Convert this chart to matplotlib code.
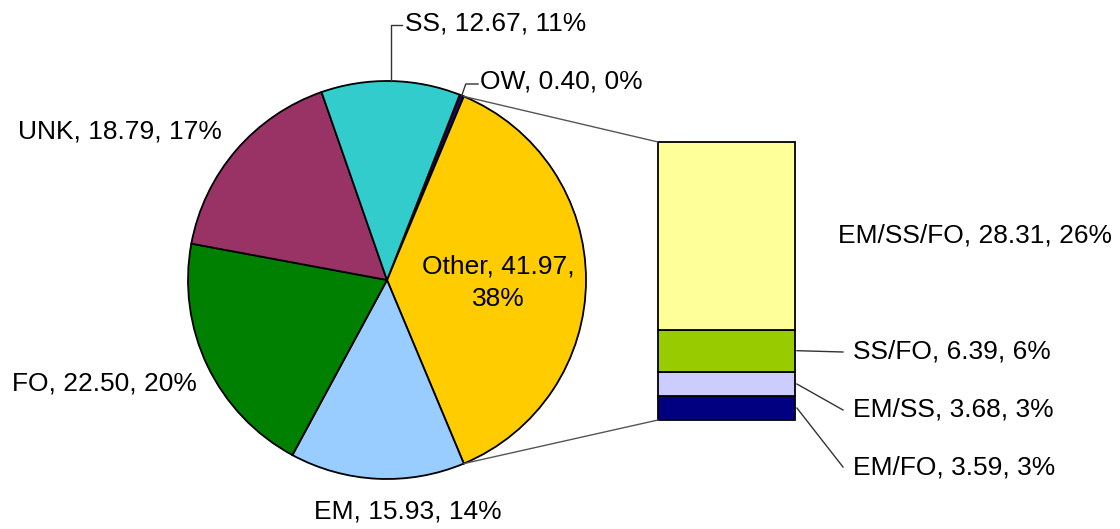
import numpy as np
import matplotlib.pyplot as plt
from matplotlib.patches import ConnectionPatch

plt.rcParams['font.family'] = ['Liberation Sans', 'DejaVu Sans']

# Pie slices, clockwise from the small OW slice
pie_names = ["OW", "Other", "EM", "FO", "UNK", "SS"]
pie_values = [0.40, 41.97, 15.93, 22.50, 18.79, 12.67]
pie_pcts = ["0%", "38%", "14%", "20%", "17%", "11%"]
pie_colors = ["#1a0a66", "#ffcc00", "#99ccff", "#008000", "#993366", "#33cccc"]

# Breakdown of "Other", bottom to top
bar_names = ["EM/FO", "EM/SS", "SS/FO", "EM/SS/FO"]
bar_values = [3.59, 3.68, 6.39, 28.31]
bar_pcts = ["3%", "3%", "6%", "26%"]
bar_colors = ["#000080", "#ccccff", "#99cc00", "#ffff99"]

W, H = 1120, 529
fig = plt.figure(figsize=(W / 100, H / 100), dpi=100)
ax = fig.add_axes([0, 0, 1, 1])

cx, cy, r = 387, H - 280, 199
total = sum(pie_values)
deg = [v / total * 360 for v in pie_values]
# keep "Other" centred on the right side
start = deg[1] / 2 + deg[0]
wedges, _ = ax.pie(pie_values, colors=pie_colors, startangle=start,
                   counterclock=False, center=(cx, cy), radius=r,
                   wedgeprops=dict(edgecolor="black", linewidth=1.3),
                   frame=True)
ax.set_xlim(0, W)
ax.set_ylim(0, H)
ax.set_aspect("auto")
ax.axis("off")

def edge_pt(angle, rr=r):
    a = np.deg2rad(angle)
    return cx + rr * np.cos(a), cy + rr * np.sin(a)

fs = 19
lc = "#333333"

# stacked bar for the "Other" breakdown
bax = fig.add_axes([658 / W, (H - 420) / H, 137 / W, 278 / H])
bottoms = np.concatenate([[0], np.cumsum(bar_values)[:-1]])
bax.bar([0.5] * len(bar_values), bar_values, bottom=bottoms, width=1.0,
        color=bar_colors, edgecolor="black", linewidth=1.3, clip_on=False)
bax.set_xlim(0, 1)
bax.set_ylim(0, sum(bar_values))
bax.axis("off")

# connector lines from the Other slice to the bar
other = wedges[1]
for ang, yb in [(other.theta2, 1), (other.theta1, 0)]:
    con = ConnectionPatch(xyA=edge_pt(ang), coordsA=ax.transData,
                          xyB=(0, yb), coordsB=bax.transAxes,
                          color="#555555", linewidth=1.0)
    fig.add_artist(con)

def lab(i):
    return f"{pie_names[i]}, {pie_values[i]:.2f}, {pie_pcts[i]}"

# SS label with elbow leader
w = wedges[5]
mx, my = edge_pt((w.theta1 + w.theta2) / 2)
ax.plot([mx, mx, 402], [my, H - 25, H - 25], color=lc, lw=1.0)
ax.text(405, H - 23, lab(5), fontsize=fs, ha="left", va="center")

# OW label with elbow leader
w = wedges[0]
mx, my = edge_pt((w.theta1 + w.theta2) / 2)
ax.plot([mx, mx + 4, 478], [my, H - 84, H - 84], color=lc, lw=1.0)
ax.text(480, H - 82, lab(0), fontsize=fs, ha="left", va="center")

ax.text(222, H - 132, lab(4), fontsize=fs, ha="right", va="center")
ax.text(197, H - 384, lab(3), fontsize=fs, ha="right", va="center")
ax.text(408, H - 511, lab(2), fontsize=fs, ha="center", va="center")
ax.text(498, H - 283, f"{pie_names[1]}, {pie_values[1]:.2f},\n{pie_pcts[1]}",
        fontsize=fs, ha="center", va="center", linespacing=1.45)

# bar labels
def blab(i):
    return f"{bar_names[i]}, {bar_values[i]:.2f}, {bar_pcts[i]}"

to_ax = lambda x, y: ax.transData.inverted().transform(
    bax.transData.transform((x, y)))

ax.text(838, H - 235, blab(3), fontsize=fs, ha="left", va="center")
label_y = {2: 352, 1: 410, 0: 467}
for i, ty in label_y.items():
    sx, sy = to_ax(1, bottoms[i] + bar_values[i] / 2)
    ax.plot([sx + 2, 843], [sy, H - ty], color=lc, lw=1.0)
    ax.text(853, H - ty, blab(i), fontsize=fs, ha="left", va="center")

fig.savefig("out.png", dpi=100, facecolor="white")
